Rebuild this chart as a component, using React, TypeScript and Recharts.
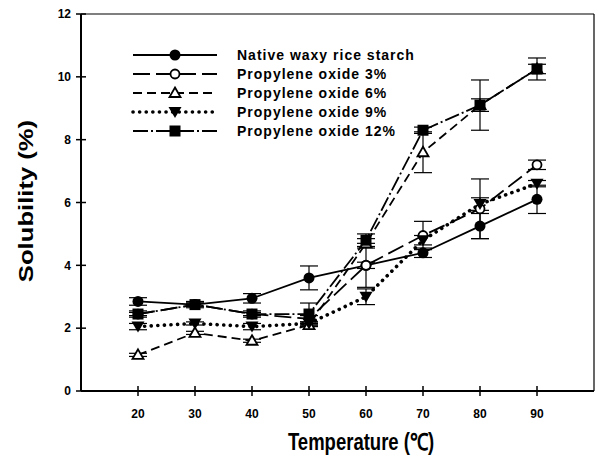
import React from 'react';
import {
  LineChart,
  Line,
  XAxis,
  YAxis,
  ErrorBar,
  ReferenceLine,
} from 'recharts';

const temps = [20, 30, 40, 50, 60, 70, 80, 90];

const native = [2.85, 2.75, 2.95, 3.6, 4.0, 4.4, 5.25, 6.1];
const nativeErr = [0.12, 0.05, 0.15, 0.38, 0.1, 0.15, 0.4, 0.45];
const po3 = [2.45, 2.75, 2.45, 2.3, 4.0, 4.95, 5.8, 7.2];
const po3Err = [0.05, 0.05, 0.05, 0.1, 0.7, 0.45, 0.95, 0.15];
const po6 = [1.15, 1.85, 1.6, 2.1, 4.7, 7.6, 9.1, 10.25];
const po6Err = [0.05, 0.05, 0.05, 0.05, 0.15, 0.65, 0.2, 0.15];
const po9 = [2.05, 2.15, 2.05, 2.15, 3.0, 4.8, 5.95, 6.6];
const po9Err = [0.1, 0.05, 0.1, 0.05, 0.25, 0.15, 0.2, 0.1];
const po12 = [2.45, 2.75, 2.45, 2.45, 4.8, 8.3, 9.1, 10.25];
const po12Err = [0.1, 0.1, 0.1, 0.35, 0.2, 0.1, 0.8, 0.35];

const xTicks = [20, 30, 40, 50, 60, 70, 80, 90];
const yTicks = [0, 2, 4, 6, 8, 10, 12];

type Shape = 'circle' | 'circleOpen' | 'triOpen' | 'triDown' | 'square';

const SERIES: { key: string; name: string; dash?: string; width: number; cap?: 'round'; shape: Shape }[] = [
  { key: 'native', name: 'Native waxy rice starch', width: 1.8, shape: 'circle' },
  { key: 'po3', name: 'Propylene oxide 3%', dash: '17 6', width: 1.8, shape: 'circleOpen' },
  { key: 'po6', name: 'Propylene oxide 6%', dash: '9 5', width: 1.8, shape: 'triOpen' },
  { key: 'po9', name: 'Propylene oxide 9%', dash: '0.1 6.5', width: 3.6, cap: 'round', shape: 'triDown' },
  { key: 'po12', name: 'Propylene oxide 12%', dash: '15 3 2 3', width: 1.8, shape: 'square' },
];

const chartData = temps.map((t, i) => ({
  t,
  native: native[i],
  nativeErr: nativeErr[i],
  po3: po3[i],
  po3Err: po3Err[i],
  po6: po6[i],
  po6Err: po6Err[i],
  po9: po9[i],
  po9Err: po9Err[i],
  po12: po12[i],
  po12Err: po12Err[i],
}));

function Marker({ cx, cy, shape }: { cx: number; cy: number; shape: Shape }) {
  if (cx == null || cy == null) return null;
  switch (shape) {
    case 'circle':
      return <circle cx={cx} cy={cy} r={5.5} fill="#000" />;
    case 'circleOpen':
      return <circle cx={cx} cy={cy} r={4.5} fill="#fff" stroke="#000" strokeWidth={1.8} />;
    case 'triOpen':
      return (
        <polygon
          points={`${cx},${cy - 5.5} ${cx + 5.5},${cy + 4} ${cx - 5.5},${cy + 4}`}
          fill="#fff"
          stroke="#000"
          strokeWidth={1.8}
        />
      );
    case 'triDown':
      return <polygon points={`${cx - 6.5},${cy - 5} ${cx + 6.5},${cy - 5} ${cx},${cy + 6}`} fill="#000" />;
    default:
      return <rect x={cx - 5.5} y={cy - 5.5} width={11} height={11} fill="#000" />;
  }
}

const font = '"Liberation Sans", Arial, sans-serif';

function LegendBox() {
  return (
    <svg width={300} height={110} style={{ position: 'absolute', left: 120, top: 36 }}>
      {SERIES.map((s, i) => {
        const y = 19 + i * 19;
        return (
          <g key={s.key}>
            <line
              x1={13}
              x2={97}
              y1={y}
              y2={y}
              stroke="#000"
              strokeWidth={s.width}
              strokeDasharray={s.dash}
              strokeLinecap={s.cap}
            />
            <Marker cx={55} cy={y} shape={s.shape} />
            <text
              x={117}
              y={y + 5}
              fontFamily={font}
              fontWeight="bold"
              fontSize={14}
              letterSpacing={1}
              fill="#000"
            >
              {s.name}
            </text>
          </g>
        );
      })}
    </svg>
  );
}

export default function App() {
  const tickStyle = { fontFamily: font, fontWeight: 'bold' as const, fontSize: 12, fill: '#000' };
  return (
    <div style={{ position: 'absolute', left: 0, top: 0, width: 598, height: 462, background: '#fff' }}>
      <LineChart width={598} height={462} data={chartData} margin={{ top: 14, right: 4, left: 0, bottom: 0 }}>
        <XAxis
          dataKey="t"
          type="number"
          domain={[10, 100]}
          ticks={xTicks}
          height={71}
          tickSize={10}
          tickMargin={8}
          tick={tickStyle}
          axisLine={{ stroke: '#000', strokeWidth: 2 }}
          tickLine={{ stroke: '#000', strokeWidth: 1.5, transform: 'translate(0,-5)' }}
        />
        <YAxis
          type="number"
          domain={[0, 12]}
          ticks={yTicks}
          width={81}
          tickSize={10}
          tickMargin={0}
          tick={tickStyle}
          axisLine={{ stroke: '#000', strokeWidth: 2 }}
          tickLine={{ stroke: '#000', strokeWidth: 1.5, transform: 'translate(5,0)' }}
        />
        <ReferenceLine y={12} stroke="#000" strokeWidth={1.2} />
        <ReferenceLine x={100} stroke="#000" strokeWidth={1.2} />
        {SERIES.map((s) => (
          <Line
            key={s.key}
            dataKey={s.key}
            type="linear"
            stroke="#000"
            strokeWidth={s.width}
            strokeDasharray={s.dash}
            strokeLinecap={s.cap}
            isAnimationActive={false}
            dot={(p: any) => <Marker key={`${s.key}-${p.index}`} cx={p.cx} cy={p.cy} shape={s.shape} />}
            activeDot={false}
          >
            <ErrorBar dataKey={`${s.key}Err`} direction="y" width={9} stroke="#000" strokeWidth={1.2} />
          </Line>
        ))}
      </LineChart>
      <LegendBox />
      <div
        style={{
          position: 'absolute',
          left: 25,
          top: 201,
          transform: 'translate(-50%, -50%) scaleY(1.22) rotate(-90deg)',
          fontFamily: font,
          fontWeight: 'bold',
          fontSize: 21,
          whiteSpace: 'nowrap',
          lineHeight: 1,
        }}
      >
        Solubility (%)
      </div>
      <div
        style={{
          position: 'absolute',
          left: 361,
          top: 443,
          transform: 'translate(-50%, -50%) scaleY(1.25)',
          fontFamily: font,
          fontWeight: 'bold',
          fontSize: 18.5,
          whiteSpace: 'nowrap',
          lineHeight: 1,
        }}
      >
        Temperature (℃)
      </div>
    </div>
  );
}
